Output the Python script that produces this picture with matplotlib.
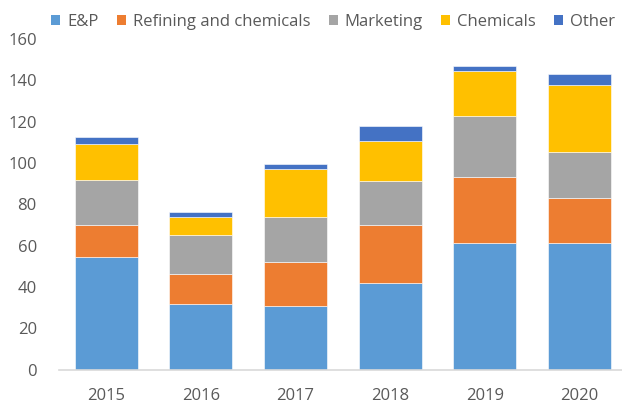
import numpy as np
import matplotlib
matplotlib.use("Agg")
import matplotlib.pyplot as plt

# values
years = ["2015", "2016", "2017", "2018", "2019", "2020"]
ep = [54.5, 31.8, 30.9, 41.7, 61.4, 61.1]
refining = [15.3, 14.4, 21.1, 28.1, 31.6, 22.1]
marketing = [21.8, 18.8, 21.8, 21.3, 29.7, 22.1]
chemicals = [17.5, 8.8, 23.2, 19.6, 21.9, 32.6]
other = [3.3, 2.4, 2.5, 7.0, 2.2, 5.3]

series = [ep, refining, marketing, chemicals, other]
names = ["E&P", "Refining and chemicals", "Marketing", "Chemicals", "Other"]
colors = ["#5B9BD5", "#ED7D31", "#A5A5A5", "#FFC000", "#4472C4"]

plt.rcParams['font.family'] = ['Open Sans', 'DejaVu Sans']
txt = "#595959"

W, H = 622, 403
fig = plt.figure(figsize=(W / 100, H / 100), dpi=100)
ax = fig.add_axes([59 / W, (H - 369.5) / H, (622 - 59) / W, (369.5 - 38.9) / H])

x = np.arange(len(years))
bottom = np.zeros(len(years))
for vals, name, col in zip(series, names, colors):
    ax.bar(x, vals, 0.666, bottom=bottom, color=col, label=name,
           edgecolor="white", linewidth=0.4)
    bottom += np.array(vals)

ax.set_xlim(-0.5, 5.449)
ax.set_ylim(0, 160)
ax.set_yticks(range(0, 161, 20))
ax.set_xticks(x)
ax.set_xticklabels(years)
ax.tick_params(length=0, labelsize=12, colors=txt)
ax.tick_params(axis="y", pad=16)
ax.tick_params(axis="x", pad=13.5)

for s in ["top", "right", "left"]:
    ax.spines[s].set_visible(False)
ax.spines["bottom"].set_color("#D9D9D9")
ax.spines["bottom"].set_linewidth(1.2)

leg = fig.legend(loc="center", bbox_to_anchor=(333 / W, 1 - 22 / H), ncol=5,
                 frameon=False, fontsize=12, handlelength=0.55, handleheight=0.55,
                 handletextpad=0.4, columnspacing=1.1, borderpad=0)
for t in leg.get_texts():
    t.set_color(txt)
for h in leg.legend_handles:
    h.set_linewidth(0)

fig.savefig("out.png", dpi=100)
